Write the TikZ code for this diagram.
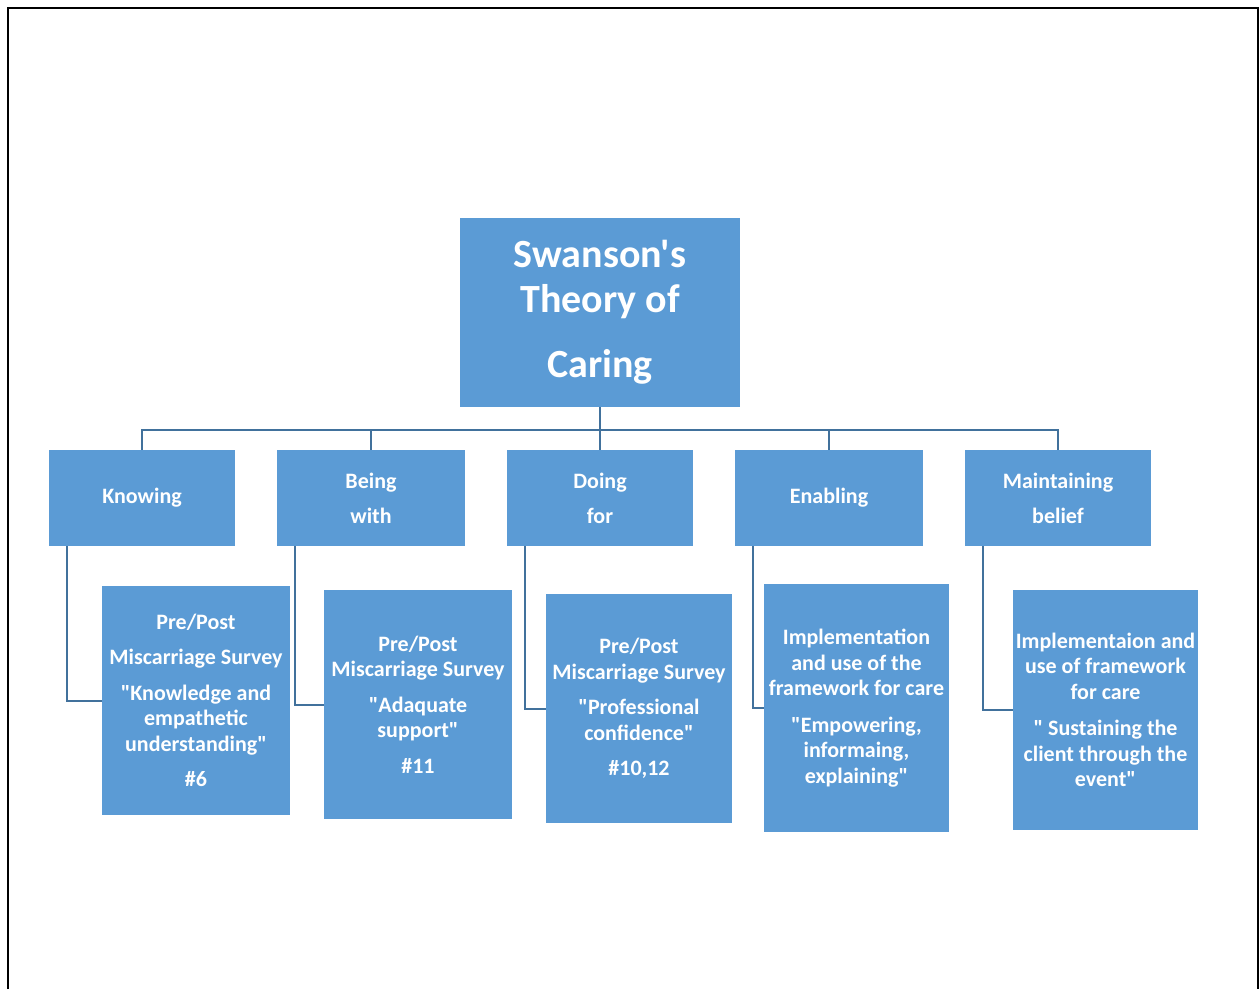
\documentclass[tikz,border=0pt]{standalone}
\usepackage{fontspec}
\setmainfont{Carlito}[Ligatures=TeXOff]
\definecolor{boxblue}{HTML}{5B9BD5}
\definecolor{linkblue}{HTML}{41719C}
\begin{document}
\begin{tikzpicture}[x=1pt,y=-1pt,
  box/.style={fill=boxblue,draw=none,text=white,inner sep=0pt,align=center,font=\bfseries\fontsize{22}{25.5}\selectfont},
  link/.style={draw=linkblue,line width=2pt}]
\useasboundingbox (0,0) rectangle (1259,989);
\fill[white] (0,0) rectangle (1259,989);
\draw[line width=2.5pt,black] (8,989) -- (8,8) -- (1258,8) -- (1258,989);

\node[box,minimum width=280pt,minimum height=189pt,font=\bfseries\fontsize{40}{45}\selectfont] (top) at (600,312.5) {Swanson's\\Theory of\\[20pt]Caring};

\node[box,minimum width=186pt,minimum height=96pt] (k) at (142,498) {Knowing};
\node[box,minimum width=188pt,minimum height=96pt] (bw) at (371,498) {Being\\[9.5pt]with};
\node[box,minimum width=186pt,minimum height=96pt] (df) at (600,498) {Doing\\[9.5pt]for};
\node[box,minimum width=188pt,minimum height=96pt] (en) at (829,498) {Enabling};
\node[box,minimum width=186pt,minimum height=96pt] (mb) at (1058,498) {Maintaining\\[9.5pt]belief};

\node[box,minimum width=188pt,minimum height=229pt] (b1) at (196,700.5) {Pre/Post\\[10pt]Miscarriage Survey\\[10pt]"Knowledge and\\empathetic\\understanding"\\[10pt]\#6};
\node[box,minimum width=188pt,minimum height=229pt] (b2) at (418,704.5) {Pre/Post\\Miscarriage Survey\\[10pt]"Adaquate\\support"\\[10pt]\#11};
\node[box,minimum width=186pt,minimum height=229pt] (b3) at (639,708.5) {Pre/Post\\Miscarriage Survey\\[10pt]"Professional\\confidence"\\[10pt]\#10,12};
\node[box,minimum width=185pt,minimum height=248pt] (b4) at (856.5,708) {Implementation\\and use of the\\framework for care\\[11pt]"Empowering,\\informaing,\\explaining"};
\node[box,minimum width=185pt,minimum height=240pt] (b5) at (1105.5,710) {Implementaion and\\use of framework\\for care\\[11pt]" Sustaining the\\client through the\\event"};

\foreach \c in {k,bw,df,en,mb}
  \draw[link] (top.south) -- ++(0,23) -| (\c.north);

\foreach \p/\c in {k/b1,bw/b2,df/b3,en/b4,mb/b5}
  \draw[link] ([xshift=18pt]\p.south west) |- (\c.west);
\end{tikzpicture}
\end{document}
